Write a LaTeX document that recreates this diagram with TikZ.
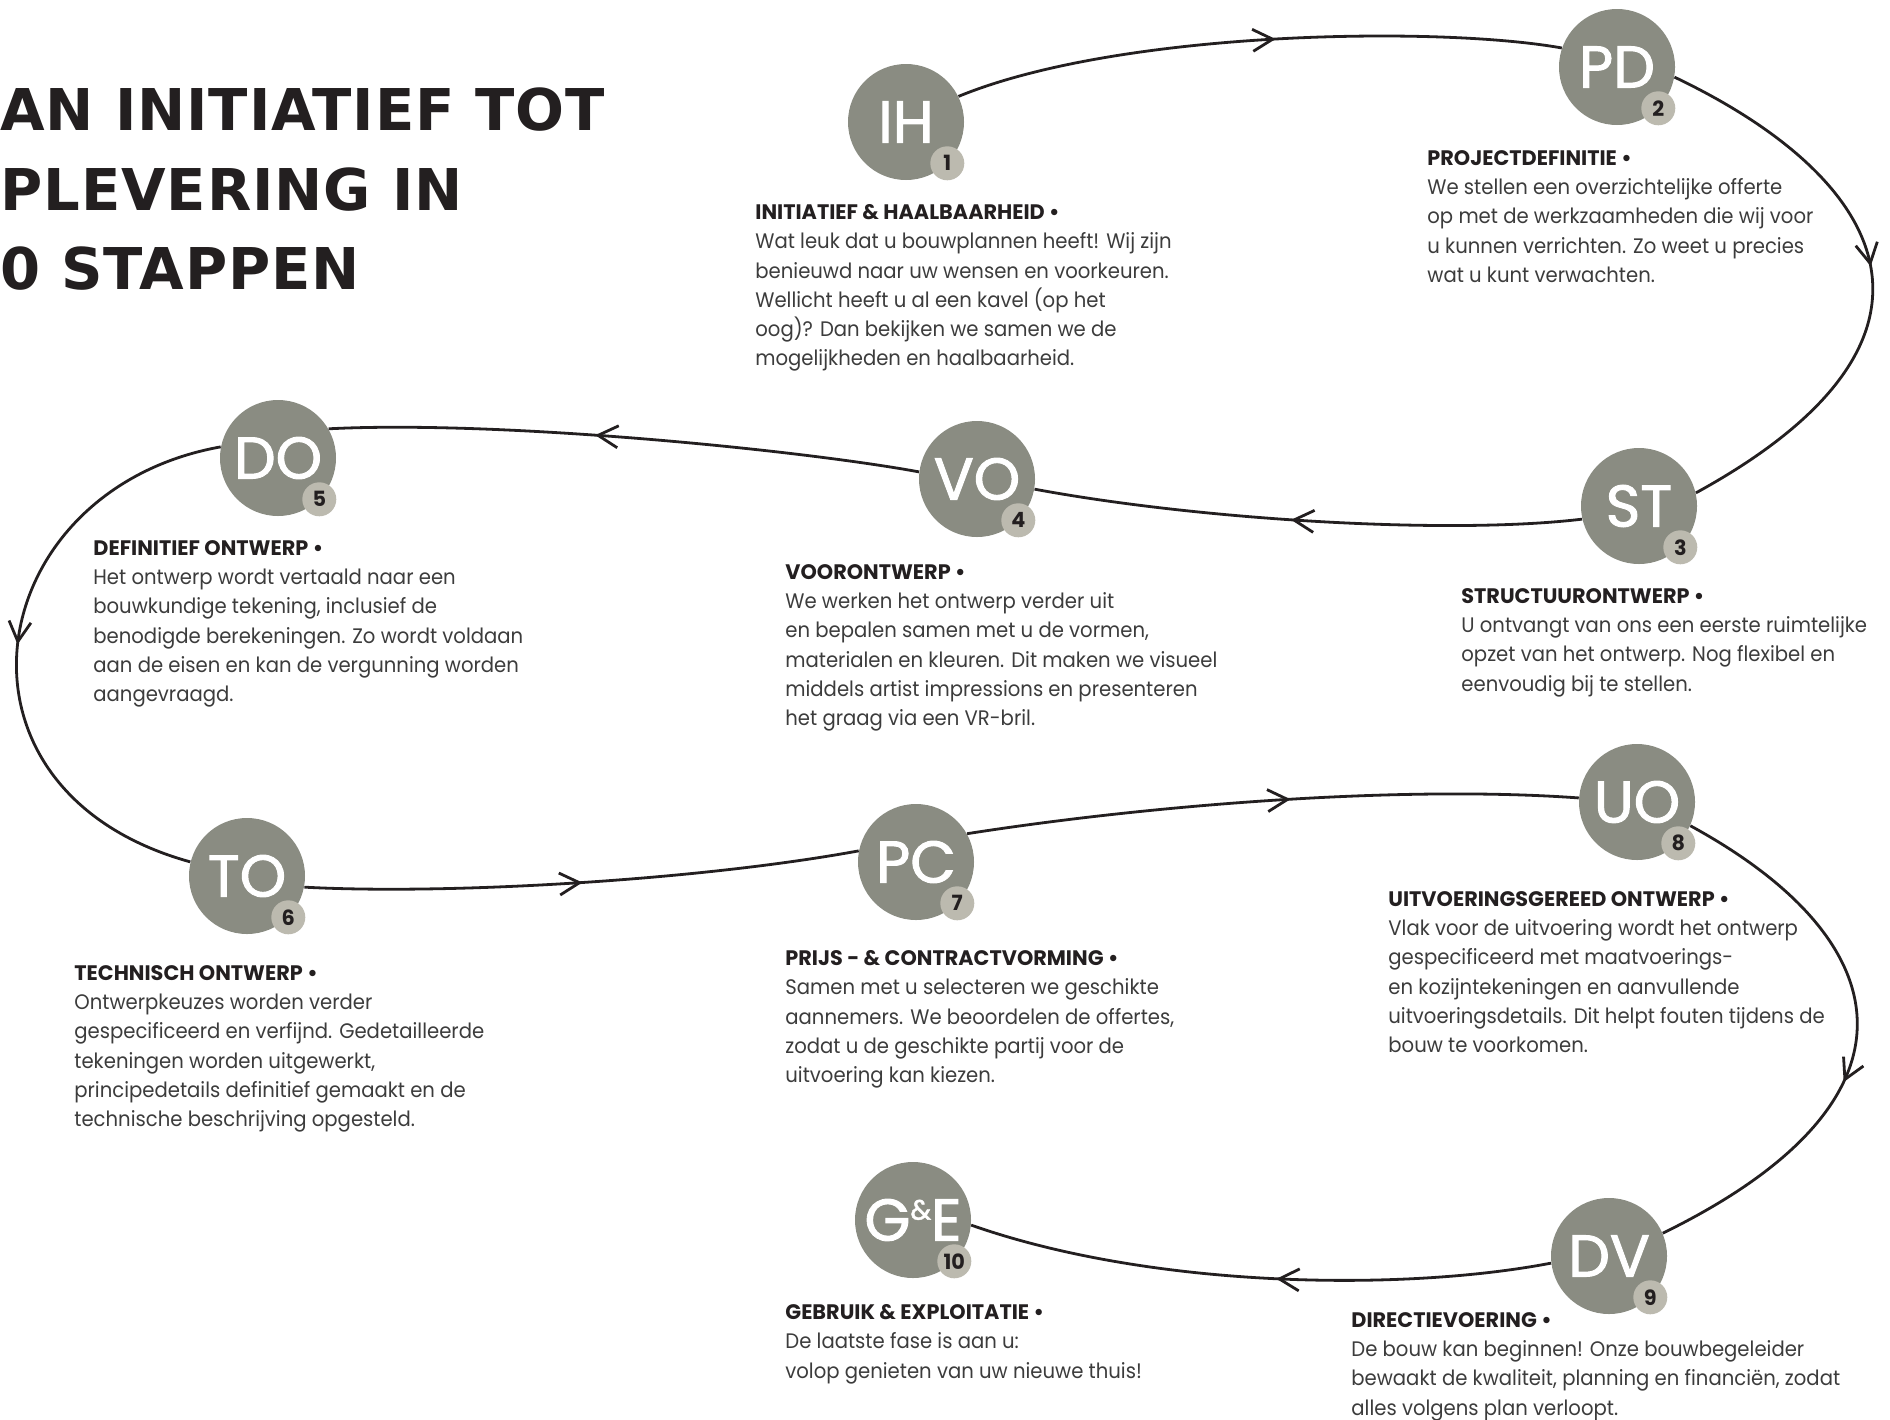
\documentclass[tikz,border=0pt]{standalone}
\usepackage{fontspec}
\setmainfont{Poppins}[FakeStretch=0.935, BoldFeatures={FakeStretch=0.99}]
\newfontfamily\titlefont{DejaVu Sans}[LetterSpace=1.6]
\newfontfamily\circlefont{Poppins}[FakeBold=1.6]
\usetikzlibrary{arrows.meta,decorations.markings}

\definecolor{stone}{HTML}{8A8C82}
\definecolor{pebble}{HTML}{BCBAAF}
\definecolor{ink}{HTML}{231F20}
\definecolor{bodygray}{HTML}{3C3C3C}

\tikzstyle{phase}=[circle, fill=stone, draw=none, minimum size=58pt, inner sep=0pt, text=white, font=\circlefont\fontsize{29.5}{29.5}\selectfont]
\tikzstyle{badge}=[circle, fill=pebble, draw=none, minimum size=17pt, inner sep=0pt, text=ink, font=\bfseries\fontsize{10.5}{10.5}\selectfont]
\tikzstyle{info}=[anchor=north west, inner sep=0pt, align=left, text=bodygray, font=\fontsize{10.5}{14.65}\selectfont]
\tikzstyle{titleline}=[anchor=base west, inner sep=0pt, text=ink, font=\titlefont\bfseries\fontsize{28.8}{28.8}\selectfont]
\tikzset{flow/.style={draw=ink, line width=1.4pt, postaction={decorate},
  decoration={markings, mark=at position #1 with {\arrow{Straight Barb[length=10pt,width=11pt]}}}}}

\newcommand{\phasehead}[1]{{\color{ink}\bfseries #1 •}}

\begin{document}
\begin{tikzpicture}[x=0.5pt, y=-0.5pt]
\useasboundingbox (0,0) rectangle (1890,1419);

% title, cut at the left edge
\node[titleline] (title1) at (0,130) {AN INITIATIEF TOT};
\node[titleline] (title2) at (0,210) {PLEVERING IN};
\node[titleline] (title3) at (0,289) {0 STAPPEN};

% the ten phases
\node[phase] (ih) at (906,122) {IH};
\node[phase] (pd) at (1617,67) {PD};
\node[phase] (st) at (1639,506) {ST};
\node[phase] (vo) at (977,479) {VO};
\node[phase] (defo) at (278,458) {DO};
\node[phase] (tech) at (247,876) {TO};
\node[phase] (pc) at (916,862) {PC};
\node[phase] (uo) at (1637,802) {UO};
\node[phase] (dv) at (1609,1256) {DV};
\node[phase] (ge) at (913,1220) {G\raisebox{10.5pt}{\fontsize{14}{14}\selectfont\&}E};

\foreach \p/\k in {ih/1,pd/2,st/3,vo/4,defo/5,tech/6,pc/7,uo/8,dv/9,ge/10}{
  \node[badge] (n\k) at (\p.-45) {\k};
}

% the route
\draw[flow=0.53] (ih.26) .. controls (1120,30) and (1440,26) .. (pd.161);
\draw[flow=0.48] (pd.-10) .. controls (1890,180) and (1975,340) .. (st.13);
\draw[flow=0.53] (st.193) .. controls (1450,535) and (1200,520) .. (vo.-10);
\draw[flow=0.55] (vo.173) .. controls (800,450) and (500,420) .. (defo.30);
\draw[flow=0.5] (defo.169) .. controls (-20,490) and (-70,790) .. (tech.166);
\draw[flow=0.5] (tech.-11) .. controls (450,895) and (700,880) .. (pc.169);
\draw[flow=0.53] (pc.29) .. controls (1150,805) and (1400,785) .. (uo.176);
\draw[flow=0.58] (uo.-24) .. controls (1900,940) and (1935,1100) .. (dv.23);
\draw[flow=0.47] (dv.187) .. controls (1400,1292) and (1150,1288) .. (ge.-5);

% texts
\node[info] (d1) at (755,204) {\phasehead{INITIATIEF \& HAALBAARHEID}\\
Wat leuk dat u bouwplannen heeft! Wij zijn\\
benieuwd naar uw wensen en voorkeuren.\\
Wellicht heeft u al een kavel (op het\\
oog)? Dan bekijken we samen we de\\
mogelijkheden en haalbaarheid.};

\node[info] (d2) at (1427,150) {\phasehead{PROJECTDEFINITIE}\\
We stellen een overzichtelijke offerte\\
op met de werkzaamheden die wij voor\\
u kunnen verrichten. Zo weet u precies\\
wat u kunt verwachten.};

\node[info] (d3) at (1461,588) {\phasehead{STRUCTUURONTWERP}\\
U ontvangt van ons een eerste ruimtelijke\\
opzet van het ontwerp. Nog flexibel en\\
eenvoudig bij te stellen.};

\node[info] (d4) at (785,564) {\phasehead{VOORONTWERP}\\
We werken het ontwerp verder uit\\
en bepalen samen met u de vormen,\\
materialen en kleuren. Dit maken we visueel\\
middels artist impressions en presenteren\\
het graag via een VR-bril.};

\node[info] (d5) at (93,540) {\phasehead{DEFINITIEF ONTWERP}\\
Het ontwerp wordt vertaald naar een\\
bouwkundige tekening, inclusief de\\
benodigde berekeningen. Zo wordt voldaan\\
aan de eisen en kan de vergunning worden\\
aangevraagd.};

\node[info] (d6) at (74,965) {\phasehead{TECHNISCH ONTWERP}\\
Ontwerpkeuzes worden verder\\
gespecificeerd en verfijnd. Gedetailleerde\\
tekeningen worden uitgewerkt,\\
principedetails definitief gemaakt en de\\
technische beschrijving opgesteld.};

\node[info] (d7) at (785,950) {\phasehead{PRIJS - \& CONTRACTVORMING}\\
Samen met u selecteren we geschikte\\
aannemers. We beoordelen de offertes,\\
zodat u de geschikte partij voor de\\
uitvoering kan kiezen.};

\node[info] (d8) at (1388,891) {\phasehead{UITVOERINGSGEREED ONTWERP}\\
Vlak voor de uitvoering wordt het ontwerp\\
gespecificeerd met maatvoerings-\\
en kozijntekeningen en aanvullende\\
uitvoeringsdetails. Dit helpt fouten tijdens de\\
bouw te voorkomen.};

\node[info] (d9) at (1351,1312) {\phasehead{DIRECTIEVOERING}\\
De bouw kan beginnen! Onze bouwbegeleider\\
bewaakt de kwaliteit, planning en financiën, zodat\\
alles volgens plan verloopt.};

\node[info] (d10) at (785,1304) {\phasehead{GEBRUIK \& EXPLOITATIE}\\
De laatste fase is aan u:\\
volop genieten van uw nieuwe thuis!};

\end{tikzpicture}
\end{document}
